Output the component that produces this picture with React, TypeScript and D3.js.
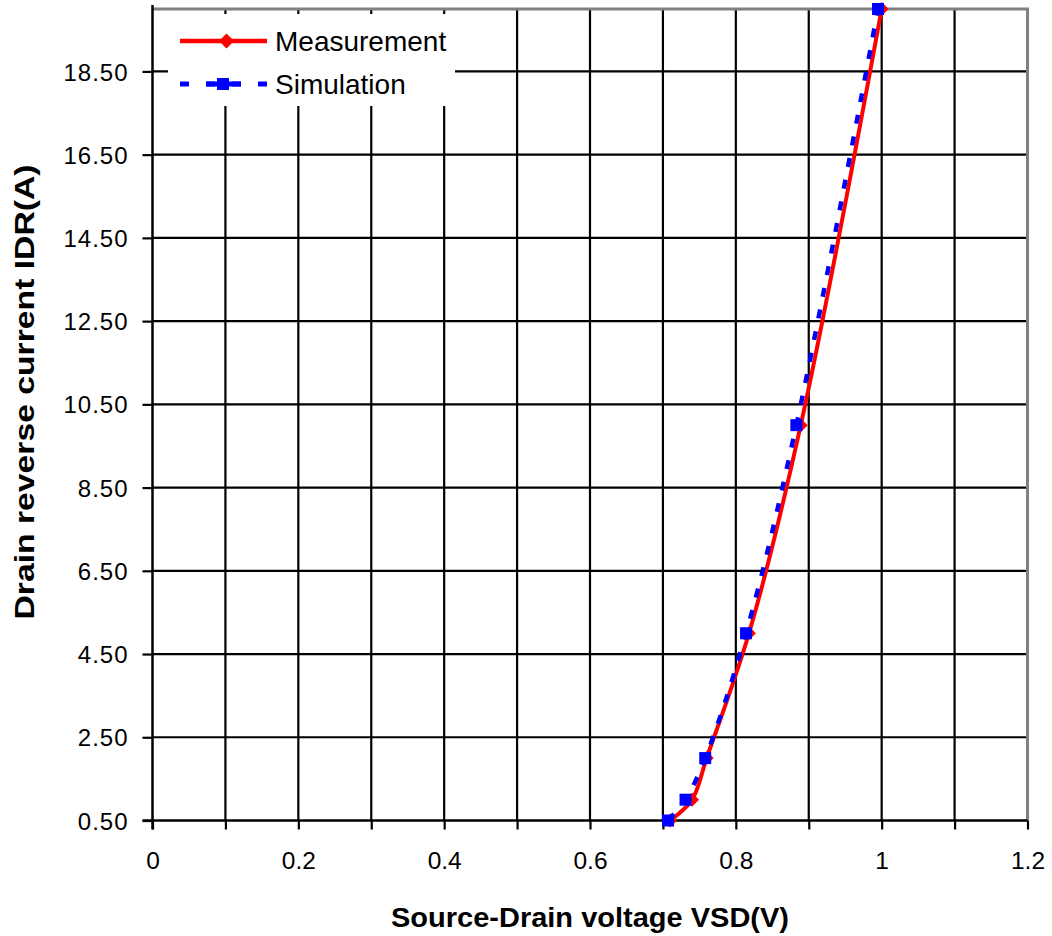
import React, { useEffect, useRef } from 'react';
import * as d3 from 'd3';

// reverse diode characteristic, current (A) vs source-drain voltage (V)
const currents = [0.5, 1, 2, 5, 10, 20];
const measuredVsd = [0.71, 0.74, 0.76, 0.818, 0.889, 1.0];
const simulatedVsd = [0.707, 0.731, 0.758, 0.814, 0.883, 0.995];

const xTicks = [0, 0.2, 0.4, 0.6, 0.8, 1, 1.2];
const xGrid = [0.1, 0.2, 0.3, 0.4, 0.5, 0.6, 0.7, 0.8, 0.9, 1.0, 1.1];
const yTicks = [0.5, 2.5, 4.5, 6.5, 8.5, 10.5, 12.5, 14.5, 16.5, 18.5];

const seriesNames = ['Measurement', 'Simulation'];

const W = 1052;
const H = 936;

const App = () => {
    const svgRef = useRef<SVGSVGElement | null>(null);

    useEffect(() => {
        if (!svgRef.current) return;
        const svg = d3.select(svgRef.current);
        svg.selectAll('*').remove();

        const left = 152.5, right = 1027.5, top = 9, bottom = 820.5;

        const x = d3.scaleLinear().domain([0, 1.2]).range([left, right]);
        const y = d3.scaleLinear().domain([0.5, 20]).range([bottom, top]);

        svg.append('rect').attr('width', W).attr('height', H).attr('fill', '#fff');

        // grid
        svg.append('g')
            .selectAll('line')
            .data(xGrid)
            .enter()
            .append('line')
            .attr('x1', d => x(d)).attr('x2', d => x(d))
            .attr('y1', top).attr('y2', bottom)
            .attr('stroke', '#000').attr('stroke-width', 2.2);

        svg.append('g')
            .selectAll('line')
            .data(yTicks.filter(d => d > 0.5))
            .enter()
            .append('line')
            .attr('x1', left).attr('x2', right)
            .attr('y1', d => y(d)).attr('y2', d => y(d))
            .attr('stroke', '#000').attr('stroke-width', 2.2);

        // plot area frame (gray top / right)
        svg.append('path')
            .attr('d', `M${left},${top}H${right}V${bottom}`)
            .attr('fill', 'none')
            .attr('stroke', '#808080')
            .attr('stroke-width', 3);

        // axes
        const xAxis = d3.axisBottom(x)
            .tickValues(d3.range(0, 13).map(i => i / 10))
            .tickSize(9)
            .tickFormat(d => (xTicks.some(t => Math.abs(t - +d) < 1e-9) ? d3.format('')(+d) : ''));
        const gx = svg.append('g').attr('transform', `translate(0,${bottom})`).call(xAxis);
        gx.select('.domain').attr('stroke', '#000').attr('stroke-width', 2.5).attr('d', `M${left - 10},0H${right}`);
        gx.selectAll('.tick line').attr('stroke', '#000').attr('stroke-width', 2.2);
        gx.selectAll('.tick text')
            .attr('y', 48)
            .attr('dy', 0)
            .attr('fill', '#000')
            .style('font-family', '"Liberation Sans", Arial, sans-serif')
            .style('font-size', '24.5px');

        const yAxis = d3.axisLeft(y)
            .tickValues(yTicks)
            .tickSize(10)
            .tickFormat(d => d3.format('.2f')(+d));
        const gy = svg.append('g').attr('transform', `translate(${left},0)`).call(yAxis);
        gy.select('.domain').attr('stroke', '#000').attr('stroke-width', 2.5).attr('d', `M0,${top - 4}V${bottom + 9}`);
        gy.selectAll('.tick line').attr('stroke', '#000').attr('stroke-width', 2.2);
        gy.selectAll('.tick text')
            .attr('x', -24)
            .attr('dy', '0.36em')
            .attr('fill', '#000')
            .style('font-family', '"Liberation Sans", Arial, sans-serif')
            .style('font-size', '24px')
            .style('letter-spacing', '1px');

        // axis titles
        svg.append('text')
            .attr('x', 590).attr('y', 927)
            .attr('text-anchor', 'middle')
            .attr('textLength', 398)
            .attr('lengthAdjust', 'spacingAndGlyphs')
            .style('font-family', '"Liberation Sans", Arial, sans-serif')
            .style('font-size', '28px')
            .style('font-weight', 'bold')
            .text('Source-Drain voltage VSD(V)');

        svg.append('text')
            .attr('transform', 'translate(34,392) rotate(-90)')
            .attr('text-anchor', 'middle')
            .attr('textLength', 455)
            .attr('lengthAdjust', 'spacingAndGlyphs')
            .style('font-family', '"Liberation Sans", Arial, sans-serif')
            .style('font-size', '27px')
            .style('font-weight', 'bold')
            .text('Drain reverse current IDR(A)');

        const line = d3.line<number[]>()
            .x(d => x(d[0]))
            .y(d => y(d[1]))
            .curve(d3.curveCatmullRom.alpha(0.5));

        const meas = measuredVsd.map((v, i) => [v, currents[i]]);
        const sim = simulatedVsd.map((v, i) => [v, currents[i]]);

        const diamond = (s: number) => `M0,${-s}L${s},0L0,${s}L${-s},0Z`;

        // Measurement
        svg.append('path')
            .attr('d', line(meas) as string)
            .attr('fill', 'none')
            .attr('stroke', '#ff0000')
            .attr('stroke-width', 4);
        svg.append('g')
            .selectAll('path')
            .data(meas)
            .enter()
            .append('path')
            .attr('transform', d => `translate(${x(d[0])},${y(d[1])})`)
            .attr('d', diamond(7))
            .attr('fill', '#ff0000');

        // Simulation
        svg.append('path')
            .attr('d', line(sim) as string)
            .attr('fill', 'none')
            .attr('stroke', '#0000ff')
            .attr('stroke-width', 4.5)
            .attr('stroke-dasharray', '9,13');
        svg.append('g')
            .selectAll('rect')
            .data(sim)
            .enter()
            .append('rect')
            .attr('x', d => x(d[0]) - 6)
            .attr('y', d => y(d[1]) - 6)
            .attr('width', 12)
            .attr('height', 12)
            .attr('fill', '#0000ff');

        // legend
        const lg = svg.append('g');
        lg.append('rect').attr('x', 168).attr('y', 14).attr('width', 287).attr('height', 92).attr('fill', '#fff');
        seriesNames.forEach((name, i) => {
            const ly = 41 + i * 43;
            const row = lg.append('g');
            if (i === 0) {
                row.append('line')
                    .attr('x1', 180).attr('x2', 267).attr('y1', ly).attr('y2', ly)
                    .attr('stroke', '#ff0000').attr('stroke-width', 4.5);
                row.append('path')
                    .attr('transform', `translate(226.5,${ly})`)
                    .attr('d', diamond(7.5))
                    .attr('fill', '#ff0000');
            } else {
                row.append('line')
                    .attr('x1', 180).attr('x2', 267).attr('y1', ly).attr('y2', ly)
                    .attr('stroke', '#0000ff').attr('stroke-width', 5)
                    .attr('stroke-dasharray', '9,17');
                row.append('line')
                    .attr('x1', 206).attr('x2', 241).attr('y1', ly).attr('y2', ly)
                    .attr('stroke', '#0000ff').attr('stroke-width', 5);
                row.append('rect')
                    .attr('x', 217).attr('y', ly - 6).attr('width', 12).attr('height', 12)
                    .attr('fill', '#0000ff');
            }
            row.append('text')
                .attr('x', 275).attr('y', ly)
                .attr('dy', '0.36em')
                .style('font-family', '"Liberation Sans", Arial, sans-serif')
                .style('font-size', '28px')
                .text(name);
        });
    }, []);

    return (
        <div style={{ position: 'absolute', left: 0, top: 0, width: W, height: H, background: '#fff' }}>
            <svg ref={svgRef} width={W} height={H}></svg>
        </div>
    );
};

export default App;
